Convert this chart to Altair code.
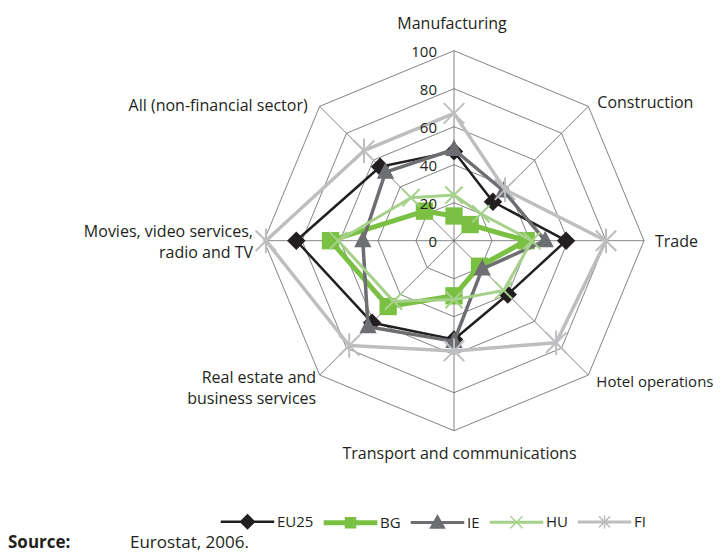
import altair as alt
import pandas as pd

# ---------------- data ----------------
categories = [
    "Manufacturing",
    "Construction",
    "Trade",
    "Hotel operations",
    "Transport and communications",
    "Real estate and\nbusiness services",
    "Movies, video services,\nradio and TV",
    "All (non-financial sector)",
]
series_names = ["EU25", "BG", "IE", "HU", "FI"]
eu25 = [47, 29, 59, 40, 52, 61, 83, 55]
bg = [13, 12, 38, 19, 29, 49, 65, 22]
ie = [48, 37, 48, 21, 53, 64, 48, 51]
hu = [24, 20, 41, 37, 31, 45, 61, 32]
fi = [67, 38, 80, 76, 58, 78, 99, 67]
tick_values = [0, 20, 40, 60, 80, 100]
source_label = "Source:"
source_text = "Eurostat, 2006."

# ---------------- layout / style ----------------
W, H = 707, 544
CX, CY = 446.0, 232.7      # centre of the radar in plot pixels
PX = 1.9                   # pixels per unit
FONT = "Open Sans"
TXT = "#231f20"
N = len(categories)

xs = alt.Scale(domain=[-CX / PX, (W - CX) / PX], nice=False, zero=False)
ys = alt.Scale(domain=[-(H - CY) / PX, CY / PX], nice=False, zero=False)


def X(f):
    return alt.X(f, type="quantitative", scale=xs, axis=None)


def Y(f):
    return alt.Y(f, type="quantitative", scale=ys, axis=None)


def polar(chart, r="value"):
    return chart.transform_calculate(
        px=f"datum.{r} * sin(datum.idx * 2 * PI / {N})",
        py=f"datum.{r} * cos(datum.idx * 2 * PI / {N})",
    )


colors = ["#231f20", "#7ac043", "#6d6e71", "#a6d18b", "#bdbec0"]
line_w = [2.5, 5, 3.5, 3, 3.5]
marker = [
    dict(shape="diamond", size=340, filled=True),
    dict(shape="square", size=300, filled=True),
    dict(shape="M0,-1.15L1,0.75L-1,0.75Z", size=300, filled=True),
    dict(shape="M-1,-1L1,1M-1,1L1,-1", size=300, filled=False, strokeWidth=2),
    dict(shape="M-1,-1L1,1M-1,1L1,-1M0,-1.2V1.2", size=420, filled=False, strokeWidth=2),
]
L = 5.2
legend_paths = [
    f"M-{L},-0.1H{L}V0.1H-{L}Z M0,-1.4L1.4,0L0,1.4L-1.4,0Z",
    f"M-{L},-0.35H{L}V0.35H-{L}Z M-1,-1H1V1H-1Z",
    f"M-{L},-0.15H{L}V0.15H-{L}Z M0,-1.4L1.4,1.1L-1.4,1.1Z",
    f"M-{L},-0.15H{L}V0.15H-{L}Z M-1.2,-1.2L1.2,1.2M-1.2,1.2L1.2,-1.2",
    f"M-{L},-0.15H{L}V0.15H-{L}Z M-1.1,-1.1L1.1,1.1M-1.1,1.1L1.1,-1.1M0,-1.35V1.35",
]

# category label placement (align, dx, dy in px from the 100 vertex; dy is for the first line, font size)
label_style = [
    ("center", -2, -27, 16),
    ("left", 9, -3, 16),
    ("left", 11, 1, 16),
    ("left", 8, 6.5, 15),
    ("center", 5.5, 23.5, 16),
    ("right", -3.5, 2.5, 16),
    ("right", -11, -9, 16),
    ("right", -12, 0, 16),
]

# ---------------- tables ----------------
all_vals = [eu25, bg, ie, hu, fi]
rows = []
for s, vals in zip(series_names, all_vals):
    for k in range(N + 1):
        rows.append({"series": s, "order": k, "idx": k % N, "value": vals[k % N]})
series_df = pd.DataFrame(rows)

grid_df = pd.DataFrame(
    [{"level": t, "order": k, "idx": k % N, "value": t} for t in tick_values[1:] for k in range(N + 1)]
)
spoke_df = pd.DataFrame([{"idx": k, "value": tick_values[-1], "zero": 0} for k in range(N)])
label_df = pd.DataFrame([{"idx": k, "label": c, "value": tick_values[-1]} for k, c in enumerate(categories)])
tick_df = pd.DataFrame({"value": tick_values, "zero": 0, "label": [str(t) for t in tick_values]})
legend_df = pd.DataFrame({"series": series_names})

layers = []

# grid octagons
layers.append(
    polar(alt.Chart(grid_df))
    .mark_line(color="#636363", strokeWidth=0.8)
    .encode(x=X("px"), y=Y("py"), detail="level:N", order="order:Q")
)
# spokes
layers.append(
    polar(alt.Chart(spoke_df))
    .mark_rule(color="#636363", strokeWidth=0.8)
    .encode(x=X("zero"), y=Y("zero"), x2="px:Q", y2="py:Q")
)

# series: line then markers, one series after another
for s, c, w, m in zip(series_names, colors, line_w, marker):
    base = polar(alt.Chart(series_df).transform_filter(alt.datum.series == s))
    layers.append(
        base.mark_line(color=c, strokeWidth=w, strokeJoin="round").encode(
            x=X("px"), y=Y("py"), order="order:Q"
        )
    )
    extra = {} if m["filled"] else {"strokeWidth": m["strokeWidth"]}
    layers.append(
        base.transform_filter(alt.datum.order < N)
        .mark_point(shape=m["shape"], size=m["size"], filled=m["filled"], color=c, opacity=1, **extra)
        .encode(x=X("px"), y=Y("py"))
    )

# tick labels
layers.append(
    alt.Chart(tick_df)
    .mark_text(align="right", baseline="middle", dx=-17, dy=1.5, font=FONT, fontSize=15, color=TXT)
    .encode(x=X("zero"), y=Y("value"), text="label:N")
)

# category labels
for k, (al, dx, dy, fs) in enumerate(label_style):
    layers.append(
        polar(alt.Chart(label_df).transform_filter(alt.datum.idx == k))
        .mark_text(
            align=al, baseline="middle", dx=dx, dy=dy, font=FONT, fontSize=fs,
            color=TXT, lineBreak="\n", lineHeight=21,
        )
        .encode(x=X("px"), y=Y("py"), text="label:N")
    )

# legend (symbols come from the scales below; the marks themselves sit off-canvas)
leg = alt.Legend(
    title=None, orient="none", legendX=232, legendY=506, direction="horizontal",
    symbolSize=100, symbolStrokeWidth=1.5, symbolOpacity=1,
    labelFont=FONT, labelFontSize=15, labelColor=TXT, labelOffset=22, columnPadding=7,
)
dom = series_names
layers.append(
    alt.Chart(legend_df)
    .mark_point(filled=False, strokeWidth=1.5, opacity=1, clip=True)
    .encode(
        x=alt.value(-300), y=alt.value(-300),
        shape=alt.Shape("series:N", scale=alt.Scale(domain=dom, range=legend_paths), legend=leg),
        stroke=alt.Stroke("series:N", scale=alt.Scale(domain=dom, range=colors), legend=leg),
        fill=alt.Fill("series:N", scale=alt.Scale(domain=dom, range=colors), legend=leg),
    )
)

# source line
layers.append(
    alt.Chart(pd.DataFrame({"t": [source_label]}))
    .mark_text(align="left", baseline="alphabetic", font=FONT, fontSize=17, fontWeight="bold", color=TXT)
    .encode(x=alt.value(0), y=alt.value(540), text="t:N")
)
layers.append(
    alt.Chart(pd.DataFrame({"t": [source_text]}))
    .mark_text(align="left", baseline="alphabetic", font=FONT, fontSize=17, color=TXT)
    .encode(x=alt.value(122), y=alt.value(540), text="t:N")
)

chart = (
    alt.layer(*layers)
    .properties(width=W, height=H, autosize=alt.AutoSizeParams(type="none"), padding=0, background="white")
    .configure_view(stroke=None)
)

chart.save("out.html", embed_options={"renderer": "svg", "actions": False})
